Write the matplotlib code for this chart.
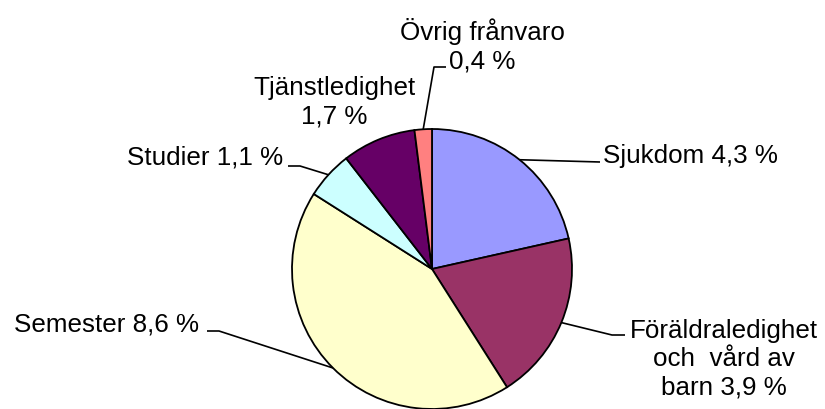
import numpy as np
import matplotlib
matplotlib.use("Agg")
import matplotlib.pyplot as plt

categories = ["Sjukdom", "Föräldraledighet\noch  vård av\nbarn", "Semester", "Studier", "Tjänstledighet", "Övrig frånvaro"]
values = [4.3, 3.9, 8.6, 1.1, 1.7, 0.4]
colors = ["#9999FF", "#993366", "#FFFFCC", "#CCFFFF", "#660066", "#FF8080"]

W, H = 825, 410
fig = plt.figure(figsize=(W / 100, H / 100), dpi=100)
ax = fig.add_axes([0, 0, 1, 1])

cx, cy, R = 432, H - 270, 140
wedges, _ = ax.pie(values, colors=colors, startangle=90, counterclock=False,
                   center=(cx, cy), radius=R, frame=True,
                   wedgeprops=dict(edgecolor="black", linewidth=1.3))
ax.set_xlim(0, W)
ax.set_ylim(0, H)
ax.set_aspect("equal")
ax.axis("off")

def fmt(v):
    return f"{v:.1f}".replace(".", ",") + " %"

fs = 18.7
font = dict(fontsize=fs, family="Liberation Sans", color="black")

def edge_pt(w):
    a = np.deg2rad((w.theta1 + w.theta2) / 2)
    return cx + R * np.cos(a), cy + R * np.sin(a)

def py(y):
    return H - y

layout = [
    dict(tx=603, ty=156, ha="left", text=f"{categories[0]} {fmt(values[0])}", knee=None, end=(600, 163)),
    dict(tx=724, ty=359, ha="center", text=f"{categories[1]} {fmt(values[1])}", knee=(612, 336), end=(625, 336)),
    dict(tx=14, ty=325, ha="left", text=f"{categories[2]} {fmt(values[2])}", knee=(219, 332), end=(207, 332)),
    dict(tx=283, ty=158, ha="right", text=f"{categories[3]} {fmt(values[3])}", knee=(300, 167), end=(288, 167)),
    dict(tx=334, ty=102, ha="center", text=f"{categories[4]}\n{fmt(values[4])}", knee=None, end=None),
    dict(tx=482, ty=46, ha="center", text=f"{categories[5]}\n{fmt(values[5])}", knee=(434, 68), end=(446, 68)),
]

for w, L in zip(wedges, layout):
    ax.text(L["tx"], py(L["ty"]), L["text"], ha=L["ha"], va="center",
            multialignment="center", linespacing=1.22, **font)
    if L["end"] is not None:
        ex, ey = edge_pt(w)
        xs, ys = [ex], [ey]
        if L["knee"] is not None:
            xs.append(L["knee"][0]); ys.append(py(L["knee"][1]))
        xs.append(L["end"][0]); ys.append(py(L["end"][1]))
        ax.plot(xs, ys, color="black", linewidth=1.2, solid_capstyle="butt")

fig.savefig("out.png", dpi=100)
